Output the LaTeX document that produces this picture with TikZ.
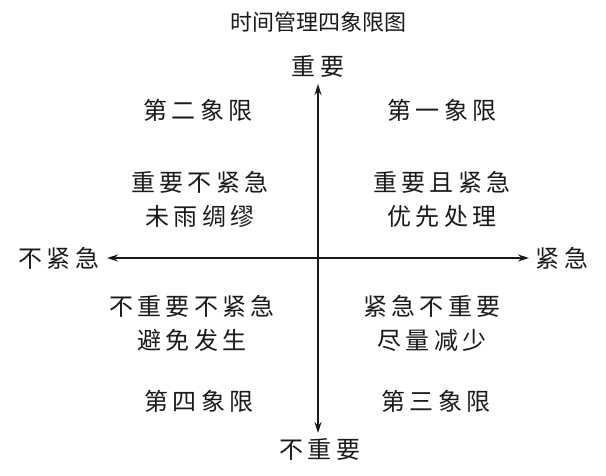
\documentclass[tikz,border=0pt]{standalone}
\usepackage{fontspec}
\newfontfamily\cjk[LetterSpace=18]{Noto Sans CJK SC}
\newfontfamily\cjktitle{Noto Sans CJK SC}
\usetikzlibrary{arrows.meta}
\begin{document}
\begin{tikzpicture}[x=1pt,y=-1pt,
  lbl/.style={font=\cjk\fontsize{24}{34}\selectfont, align=center, inner sep=0pt, text=black!90},
  ttl/.style={font=\cjktitle\fontsize{22}{26}\selectfont, inner sep=0pt, text=black!90},
  axis/.style={line width=1.4pt, -{Stealth[length=11pt,width=7pt]}, black!90}]
\useasboundingbox (0,0) rectangle (606,475);
\node[ttl] (title) at (318,22) {时间管理四象限图};
\node[lbl] (top) at (318,66) {重要};
\node[lbl] (bottom) at (320,449) {不重要};
\node[lbl] (left) at (59,258) {不紧急};
\node[lbl] (right) at (562,258) {紧急};
\coordinate (c) at (318,258);
\coordinate (ct) at (318,84);
\coordinate (cb) at (318,433);
\coordinate (cl) at (107,258);
\coordinate (cr) at (529,258);
\draw[axis] (c) -- (ct);
\draw[axis] (c) -- (cb);
\draw[axis] (c) -- (cl);
\draw[axis] (c) -- (cr);
\node[lbl] (q2) at (198,110) {第二象限};
\node[lbl] (q1) at (442,110) {第一象限};
\node[lbl] (q2t) at (200,199) {重要不紧急\\未雨绸缪};
\node[lbl] (q1t) at (442,199) {重要且紧急\\优先处理};
\node[lbl] (q4t) at (192,323) {不重要不紧急\\避免发生};
\node[lbl] (q3t) at (432,323) {紧急不重要\\尽量减少};
\node[lbl] (q4) at (199,401) {第四象限};
\node[lbl] (q3) at (436,401) {第三象限};
\end{tikzpicture}
\end{document}
